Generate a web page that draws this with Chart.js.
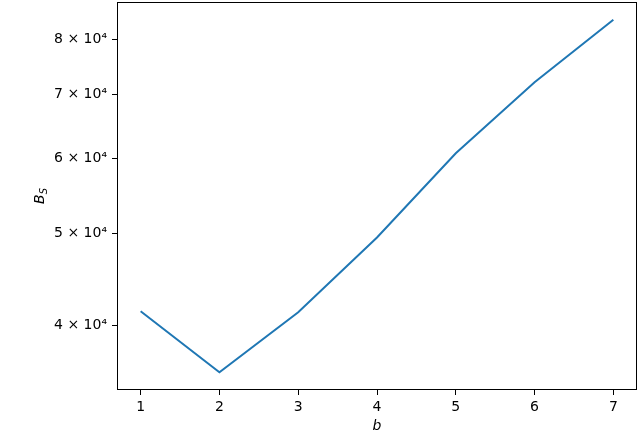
<!DOCTYPE html>
<html>
<head>
<meta charset="utf-8">
<script src="https://cdn.jsdelivr.net/npm/chart.js@4/dist/chart.umd.min.js"></script>
<style>
  html, body { margin: 0; padding: 0; background: #fff; }
  #wrap { width: 640px; height: 434px; }
</style>
</head>
<body>
<div id="wrap"><canvas id="bsChart" width="640" height="434"></canvas></div>
<script>
// valores
const bValues = [1, 2, 3, 4, 5, 6, 7];
const bsValues = [41400, 35700, 41300, 49500, 60700, 72100, 83900];
const yTicks = [40000, 50000, 60000, 70000, 80000];
const yTickLabels = ['4 \u00d7 10\u2074', '5 \u00d7 10\u2074', '6 \u00d7 10\u2074', '7 \u00d7 10\u2074', '8 \u00d7 10\u2074'];

const FONT = 'DejaVu Sans';

// moldura e títulos dos eixos (estilo matplotlib)
const framePlugin = {
    id: 'frame',
    afterDraw(chart) {
        const { ctx, chartArea: a } = chart;
        ctx.save();
        ctx.strokeStyle = '#000';
        ctx.lineWidth = 1;
        ctx.strokeRect(a.left + 0.5, a.top + 0.5, a.right - a.left - 1, a.bottom - a.top - 1);

        // título do eixo x: b
        ctx.fillStyle = '#000';
        ctx.font = 'italic 14px "' + FONT + '"';
        ctx.textAlign = 'center';
        ctx.textBaseline = 'alphabetic';
        ctx.fillText('b', (a.left + a.right) / 2, 430);

        // título do eixo y: B_S
        ctx.translate(44, (a.top + a.bottom) / 2);
        ctx.rotate(-Math.PI / 2);
        ctx.textAlign = 'left';
        ctx.font = 'italic 14px "' + FONT + '"';
        const wB = ctx.measureText('B').width;
        ctx.font = 'italic 10px "' + FONT + '"';
        const wS = ctx.measureText('S').width;
        const x0 = -(wB + wS) / 2;
        ctx.font = 'italic 14px "' + FONT + '"';
        ctx.fillText('B', x0, 0);
        ctx.font = 'italic 10px "' + FONT + '"';
        ctx.fillText('S', x0 + wB, 3);
        ctx.restore();
    }
};

function createChart() {
    const ctx = document.getElementById('bsChart').getContext('2d');
    const data = {
        datasets: [{
            label: 'B_S',
            data: bValues.map((b, i) => ({ x: b, y: bsValues[i] })),
            borderColor: '#1f77b4',
            borderWidth: 2,
            pointRadius: 0,
            tension: 0,
            fill: false
        }]
    };

    const config = {
        type: 'line',
        data: data,
        options: {
            responsive: false,
            animation: false,
            layout: { padding: { top: 2, right: 3, left: 0, bottom: 0 } },
            plugins: { legend: { display: false }, tooltip: { enabled: false } },
            scales: {
                x: {
                    type: 'linear',
                    min: 0.7,
                    max: 7.3,
                    afterBuildTicks: s => { s.ticks = bValues.map(v => ({ value: v })); },
                    afterFit: s => { s.height = 44; s.paddingLeft = 0; s.paddingRight = 0; },
                    border: { display: false },
                    grid: { drawOnChartArea: false, drawTicks: true, tickLength: 5, color: '#000', lineWidth: 1 },
                    ticks: { color: '#000', font: { family: FONT, size: 14 }, padding: 4, maxRotation: 0,
                             callback: v => String(v) }
                },
                y: {
                    type: 'logarithmic',
                    min: 34200,
                    max: 87600,
                    afterBuildTicks: s => { s.ticks = yTicks.map(v => ({ value: v })); },
                    afterFit: s => { s.width = 117; s.paddingTop = 0; s.paddingBottom = 0; },
                    border: { display: false },
                    grid: { drawOnChartArea: false, drawTicks: true, tickLength: 5, color: '#000', lineWidth: 1 },
                    ticks: { color: '#000', font: { family: FONT, size: 14 }, padding: 5,
                             callback: v => yTickLabels[yTicks.indexOf(v)] }
                }
            }
        },
        plugins: [framePlugin]
    };

    new Chart(ctx, config);
}

document.addEventListener('DOMContentLoaded', createChart);
</script>
</body>
</html>
